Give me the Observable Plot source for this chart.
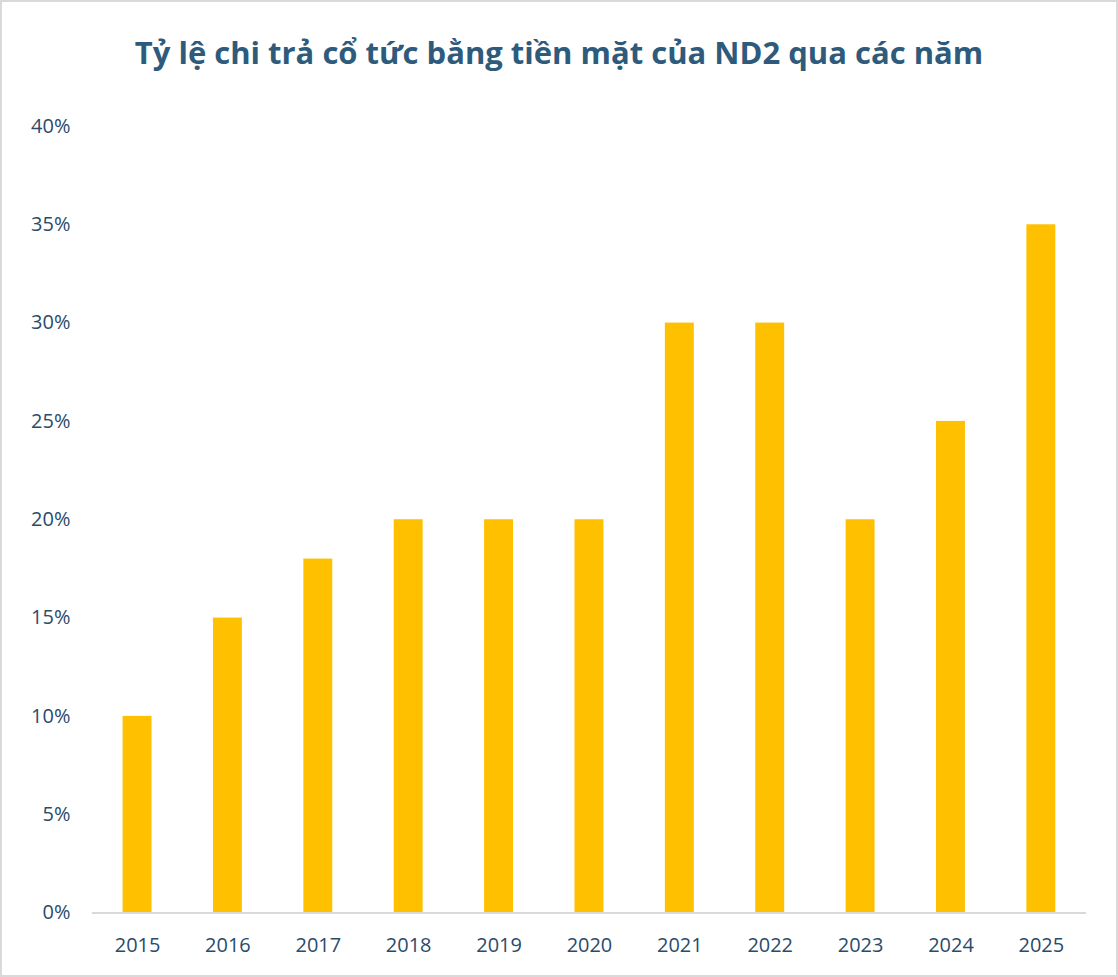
<!DOCTYPE html>
<html>
<head>
<meta charset="utf-8">
<script src="https://cdn.jsdelivr.net/npm/d3@7"></script>
<script src="https://cdn.jsdelivr.net/npm/@observablehq/plot@0.6"></script>
<style>
  html, body { margin: 0; padding: 0; background: #fff; }
  #frame { position: relative; width: 1114px; height: 973px; border: 2px solid #d9d9d9; overflow: hidden; background: #fff; }
  #title { position: absolute; left: 0; top: 0; width: 1114px; height: 98px; text-align: center;
    font-family: "Open Sans", sans-serif; font-weight: 700; font-size: 31px; color: #2E5B7C;
    line-height: 100px; }
  #chart { position: absolute; left: -2px; top: 98px; }
  svg { overflow: visible; }
</style>
</head>
<body>
<div id="frame">
  <div id="title">Tỷ lệ chi trả cổ tức bằng tiền mặt của ND2 qua các năm</div>
  <div id="chart"></div>
</div>
<script>
const years = ["2015","2016","2017","2018","2019","2020","2021","2022","2023","2024","2025"];
const payoutRates = [10, 15, 18, 20, 20, 20, 30, 30, 20, 25, 35];
const yTicks = [0, 5, 10, 15, 20, 25, 30, 35, 40];

const data = years.map((y, i) => ({year: y, rate: payoutRates[i]}));

const chart = Plot.plot({
  width: 1118,
  height: 879,
  marginTop: 26,
  marginBottom: 65,
  marginLeft: 92,
  marginRight: 30,
  style: {fontFamily: "'Open Sans', sans-serif", fontSize: "20px", color: "#2A4B6B", background: "transparent"},
  x: {domain: years, paddingInner: 0.68, paddingOuter: 0.34, align: 0.5, round: false, label: null},
  y: {domain: [0, 40], ticks: yTicks, label: null, tickFormat: d => d + "%"},
  marks: [
    Plot.axisY({ticks: yTicks, tickSize: 0, tickPadding: 22, tickFormat: d => d + "%", label: null, fill: "#2A4B6B"}),
    Plot.axisX({tickSize: 0, tickPadding: 25, label: null, fill: "#2A4B6B"}),
    Plot.barY(data, {x: "year", y: "rate", fill: "#FFC000"}),
    Plot.ruleY([0], {stroke: "#d9d9d9", strokeWidth: 2})
  ]
});
document.getElementById("chart").appendChild(chart);
</script>
</body>
</html>
